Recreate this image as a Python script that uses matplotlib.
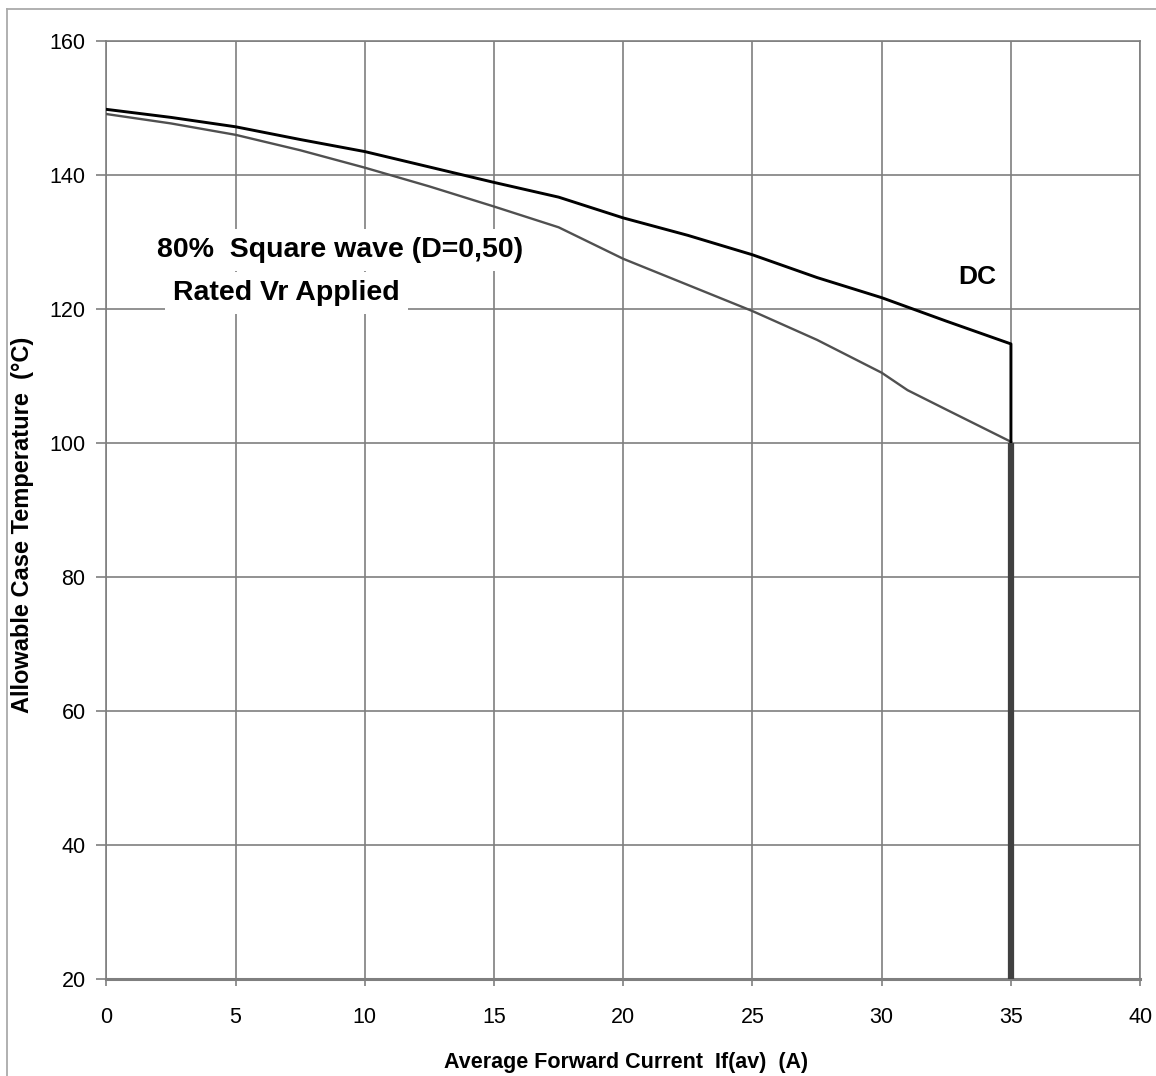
import matplotlib.pyplot as plt
from matplotlib.lines import Line2D

plt.rcParams['font.family'] = ['Liberation Sans', 'DejaVu Sans']

# DC curve (black)
current_dc = [0, 2.5, 5, 7.5, 10, 12.5, 15, 17.5, 20, 22.5, 25, 27.5, 30, 32.5, 35, 35]
temp_dc = [149.8, 148.6, 147.2, 145.3, 143.5, 141.2, 138.9, 136.7, 133.6, 131.0,
           128.1, 124.7, 121.7, 118.2, 114.8, 100.0]

# 80% square wave (D=0,50) curve (gray)
current_sq = [0, 2.5, 5, 7.5, 10, 12.5, 15, 17.5, 20, 22.5, 25, 27.5, 30, 31, 32.5, 35]
temp_sq = [149.1, 147.7, 146.0, 143.7, 141.1, 138.3, 135.3, 132.2, 127.5, 123.6,
           119.7, 115.4, 110.5, 107.9, 105.0, 100.2]

# limit bar at max current
limit_current = [35, 35]
limit_temp = [100, 20]

x_ticks = [0, 5, 10, 15, 20, 25, 30, 35, 40]
y_ticks = [20, 40, 60, 80, 100, 120, 140, 160]

fig = plt.figure(figsize=(11.56, 10.76), dpi=100)
ax = fig.add_axes([0.0920, 0.0899, 0.8943, 0.8720])

ax.set_xlim(0, 40)
ax.set_ylim(20, 160)
ax.set_xticks(x_ticks)
ax.set_yticks(y_ticks)
ax.grid(True, color='#7f7f7f', linewidth=1.2, zorder=0)
ax.set_axisbelow(True)
for side in ['top', 'right', 'left']:
    ax.spines[side].set_color('#7f7f7f')
    ax.spines[side].set_linewidth(1.2)
ax.spines['bottom'].set_color('#7f7f7f')
ax.spines['bottom'].set_linewidth(2.2)

ax.tick_params(axis='both', direction='out', color='#7f7f7f', width=1.2, labelsize=15.5)
ax.tick_params(axis='y', length=7, pad=8)
ax.tick_params(axis='x', length=5, pad=15)

ax.plot(current_sq, temp_sq, color='#505050', linewidth=1.7, zorder=3)
ax.plot(current_dc, temp_dc, color='black', linewidth=2.1, zorder=4)
ax.plot(limit_current, limit_temp, color='#404040', linewidth=4.5,
        solid_capstyle='butt', zorder=4)

ax.text(9.06, 128.8, '80%  Square wave (D=0,50)', fontsize=20.5, fontweight='bold',
        ha='center', va='center', zorder=2,
        bbox=dict(facecolor='white', edgecolor='none', pad=6))
ax.text(6.97, 122.4, 'Rated Vr Applied', fontsize=20.5, fontweight='bold',
        ha='center', va='center', zorder=2,
        bbox=dict(facecolor='white', edgecolor='none', pad=6))
ax.text(33.7, 124.8, 'DC', fontsize=19, fontweight='bold', ha='center', va='center')

ax.set_xlabel('Average Forward Current  If(av)  (A)', fontsize=15.5, fontweight='bold')
ax.xaxis.set_label_coords(0.503, -0.078)
ax.set_ylabel('Allowable Case Temperature  (°C)', fontsize=17, fontweight='bold')
ax.yaxis.set_label_coords(-0.070, 0.484)

# partial frame of the original picture
fig.add_artist(Line2D([7 / 1156, 1], [1 - 9 / 1076, 1 - 9 / 1076],
                      transform=fig.transFigure, color='#aaaaaa', linewidth=1.3))
fig.add_artist(Line2D([7 / 1156, 7 / 1156], [0, 1 - 9 / 1076],
                      transform=fig.transFigure, color='#aaaaaa', linewidth=1.3))

fig.savefig('out.png', dpi=100)
